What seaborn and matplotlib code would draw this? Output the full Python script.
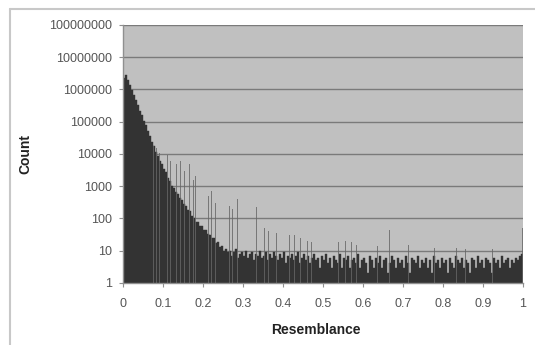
import numpy as np
import pandas as pd
import matplotlib
matplotlib.use("Agg")
import matplotlib.pyplot as plt
from matplotlib.lines import Line2D
import seaborn as sns

# ---- data ----
bin_width = 0.005
base_counts = [
    2200000, 2800000, 2000000, 1400000, 980000, 690000, 460000, 330000, 220000, 160000,
    105000, 76000, 50000, 36000, 24000, 17500, 11500, 8800, 6100, 4900,
    3400, 2700, 1850, 1450, 1000, 880, 660, 580, 430, 380,
    280, 250, 180, 165, 118, 105, 80, 76, 58, 57,
    44, 43, 32, 31, 24, 25, 17, 18, 13, 14,
    10, 11, 9, 10, 7, 9, 11, 6, 8, 9,
    7, 10, 6, 8, 9, 5, 8, 7, 10, 6,
    7, 9, 5, 8, 6, 9, 7, 5, 8, 6,
    9, 4, 7, 6, 8, 5, 7, 9, 4, 6,
    8, 5, 7, 4, 6, 8, 5, 6, 3, 7,
    5, 8, 4, 6, 3, 7, 5, 4, 8, 3,
    6, 5, 7, 3, 5, 6, 4, 8, 3, 5,
    6, 4, 2, 7, 5, 3, 6, 4, 7, 3,
    5, 6, 2, 4, 7, 5, 3, 6, 4, 5,
    3, 7, 4, 2, 6, 5, 4, 7, 3, 5,
    4, 6, 3, 5, 2, 7, 4, 5, 3, 6,
    4, 5, 2, 6, 4, 3, 7, 5, 4, 6,
    3, 5, 4, 2, 6, 5, 3, 7, 4, 5,
    3, 6, 5, 4, 2, 6, 4, 5, 3, 7,
    4, 5, 6, 3, 5, 4, 6, 5, 7, 8,
]
spike_x = [0.0769, 0.0833, 0.0909, 0.100, 0.111, 0.1176, 0.125, 0.1333, 0.1429,
           0.1538, 0.1667, 0.1765, 0.1818, 0.1875, 0.200, 0.2143, 0.2222, 0.2308,
           0.250, 0.2667, 0.2727, 0.2857, 0.300, 0.3125, 0.3333, 0.3529, 0.3636,
           0.375, 0.3846, 0.400, 0.4167, 0.4286, 0.4444, 0.4615, 0.4706, 0.500,
           0.5385, 0.5556, 0.5714, 0.5833, 0.600, 0.625, 0.6364, 0.6667, 0.6923,
           0.7143, 0.7273, 0.750, 0.7778, 0.800, 0.8333, 0.8571, 0.875, 0.900,
           0.9231, 0.998]
spike_h = [18000, 15000, 11000, 20000, 9000, 6000, 10000, 5000, 6000,
           3000, 5000, 1500, 2000, 1200, 1500, 500, 700, 300,
           1000, 250, 200, 400, 120, 90, 220, 50, 40,
           60, 35, 160, 30, 30, 25, 20, 18, 70,
           18, 20, 18, 15, 25, 15, 14, 45, 12,
           15, 12, 20, 12, 14, 12, 11, 12, 11,
           11, 50]
x_ticks = [0, 0.1, 0.2, 0.3, 0.4, 0.5, 0.6, 0.7, 0.8, 0.9, 1]
x_tick_labels = ["0", "0.1", "0.2", "0.3", "0.4", "0.5", "0.6", "0.7", "0.8", "0.9", "1"]
y_ticks = [1, 10, 100, 1000, 10000, 100000, 1000000, 10000000, 100000000]
y_tick_labels = ["1", "10", "100", "1000", "10000", "100000", "1000000",
                 "10000000", "100000000"]

# ---- figure ----
sns.set_theme(style="white")
plt.rcParams["font.family"] = ["Liberation Sans", "DejaVu Sans"]

fig = plt.figure(figsize=(5.35, 3.45), dpi=100)
ax = fig.add_axes([0.23, 0.18, 0.7476, 0.7478])
ax.set_facecolor("#c0c0c0")

dark = "#333333"
n = len(base_counts)
centers = [bin_width * (i + 0.5) for i in range(n)]
edges = [bin_width * i for i in range(n + 1)]
base_df = pd.DataFrame({"x": centers, "w": base_counts})
sns.histplot(data=base_df, x="x", weights="w", bins=edges, ax=ax,
             color=dark, alpha=1, edgecolor=dark, linewidth=0.3)

sw = 0.0022
sp_edges = []
for sx in spike_x:
    sp_edges += [sx - sw / 2, sx + sw / 2]
sp_df = pd.DataFrame({"x": spike_x, "w": spike_h})
sns.histplot(data=sp_df, x="x", weights="w", bins=sp_edges, ax=ax,
             color="#666666", alpha=0.8, linewidth=0)

ax.set_yscale("log")
ax.set_ylim(1, 1e8)
ax.set_xlim(0, 1)
ax.set_yticks(y_ticks)
ax.set_yticklabels(y_tick_labels)
ax.yaxis.set_minor_locator(matplotlib.ticker.NullLocator())
ax.set_xticks(x_ticks)
ax.set_xticklabels(x_tick_labels)
ax.grid(axis="y", color="#7a7a7a", linewidth=1.0)
ax.grid(axis="x", visible=False)
ax.set_axisbelow(True)

for s in ["top", "right"]:
    ax.spines[s].set_visible(False)
for s in ["left", "bottom"]:
    ax.spines[s].set_color("#909090")
    ax.spines[s].set_linewidth(1.0)
ax.tick_params(axis="both", which="major", direction="out", length=3,
               width=0.8, color="#909090", labelsize=9, labelcolor="#555555",
               bottom=True, left=True)
ax.tick_params(axis="x", pad=8)
ax.tick_params(axis="y", pad=5)

ax.set_xlabel("")
ax.set_ylabel("")
fig.text(316 / 535, 1 - 330 / 345, "Resemblance", ha="center", va="center",
         fontsize=10, fontweight="bold", color="#222222")
fig.text(25 / 535, 1 - 154 / 345, "Count", ha="center", va="center",
         rotation=90, fontsize=10, fontweight="bold", color="#222222")

# outer frame lines (top and left)
fig.add_artist(Line2D([10 / 535, 10 / 535], [0, 1 - 9 / 345],
                      transform=fig.transFigure, color="#c8c8c8", linewidth=1.5))
fig.add_artist(Line2D([10 / 535, 1], [1 - 9 / 345, 1 - 9 / 345],
                      transform=fig.transFigure, color="#c8c8c8", linewidth=1.5))

fig.savefig("out.png", dpi=100)
